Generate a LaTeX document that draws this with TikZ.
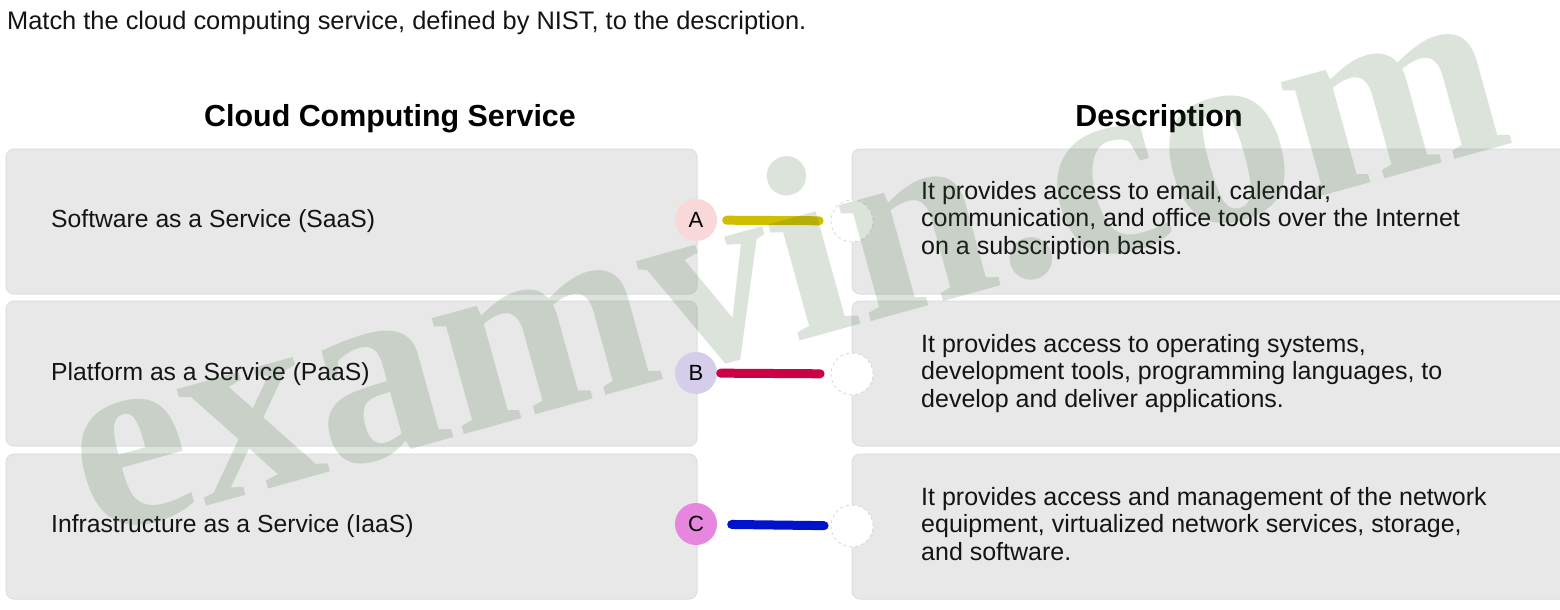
\documentclass[tikz,border=0pt]{standalone}
\usepackage{fontspec}
\setmainfont{Liberation Sans}
\newfontfamily\wmfont{Liberation Serif}
\definecolor{boxfill}{HTML}{E8E8E8}
\definecolor{boxline}{HTML}{DCDEE2}
\definecolor{pinkA}{HTML}{F8D8D8}
\definecolor{lavB}{HTML}{D6CDEA}
\definecolor{magC}{HTML}{E686DE}
\definecolor{yelA}{HTML}{D0BF00}
\definecolor{crimB}{HTML}{CC0044}
\definecolor{bluC}{HTML}{0012CC}
\definecolor{wmgreen}{HTML}{3C643C}
\definecolor{dashgray}{HTML}{D8D8D8}
\definecolor{txt}{HTML}{141414}
\begin{document}
\begin{tikzpicture}[x=1pt,y=-1pt,
  lbox/.style={draw=boxline, fill=boxfill, line width=1pt, rounded corners=8pt,
    minimum width=691pt, minimum height=145pt, inner sep=0pt},
  rbox/.style={draw=boxline, fill=boxfill, line width=1pt, rounded corners=8pt,
    minimum width=730pt, minimum height=145pt, inner sep=0pt},
  ltext/.style={anchor=base west, inner sep=0pt, text=txt, font=\fontsize{24.7}{27.5}\selectfont},
  rtext/.style={anchor=base west, inner sep=0pt, text=txt, align=left, font=\fontsize{25}{27.5}\selectfont},
  head/.style={anchor=base, inner sep=0pt, font=\bfseries\fontsize{30.4}{34}\selectfont},
  letter/.style={circle, minimum size=42pt, inner sep=0pt, font=\fontsize{22}{24}\selectfont},
  target/.style={circle, minimum size=42pt, inner sep=0pt, fill=white, draw=dashgray, dashed, line width=0.8pt},
  conn/.style={line width=9pt, line cap=round},
  wm/.style={anchor=base, inner sep=0pt, text=wmgreen, text opacity=0.18,
    font=\wmfont\bfseries\fontsize{262}{262}\selectfont}
]
\useasboundingbox (0,0) rectangle (1560,610);
\clip (0,0) rectangle (1560,610);
\fill[white] (0,0) rectangle (1560,610);

\node[anchor=base west, inner sep=0pt, text=txt, font=\fontsize{25.4}{28}\selectfont] (title) at (7,30)
  {Match the cloud computing service, defined by NIST, to the description.};

\node[head] (h1) at (390,126) {Cloud Computing Service};
\node[head] (h2) at (1159,126) {Description};

% left boxes
\node[lbox] (l1) at (351.5,221.5) {};
\node[lbox] (l2) at (351.5,373.5) {};
\node[lbox] (l3) at (351.5,526.5) {};
% right boxes
\node[rbox] (r1) at (1217,221.5) {};
\node[rbox] (r2) at (1217,373.5) {};
\node[rbox] (r3) at (1217,526.5) {};

\node[ltext] (t1) at (51,227) {Software as a Service (SaaS)};
\node[ltext] (t2) at (51,380) {Platform as a Service (PaaS)};
\node[ltext] (t3) at (51,532) {Infrastructure as a Service (IaaS)};

\node[rtext] (d1) at (921,254) {It provides access to email, calendar,\\communication, and office tools over the Internet\\on a subscription basis.};
\node[rtext] (d2) at (921,407) {It provides access to operating systems,\\development tools, programming languages, to\\develop and deliver applications.};
\node[rtext] (d3) at (921,560) {It provides access and management of the network\\equipment, virtualized network services, storage,\\and software.};

\node[letter, fill=pinkA] (A) at (696,220) {A};
\node[letter, fill=lavB] (B) at (696,373) {B};
\node[letter, fill=magC] (C) at (696,524) {C};

\node[target] (tA) at (852,221) {};
\node[target] (tB) at (852,374) {};
\node[target] (tC) at (852,526) {};

\draw[conn, draw=yelA, shorten <=9.5pt, shorten >=11.5pt] (A) -- (tA);
\draw[conn, draw=crimB, shorten <=3.5pt, shorten >=10.5pt] (B) -- (tB);
\draw[conn, draw=bluC, shorten <=14.5pt, shorten >=6.5pt] (C) -- (tC);

\node[wm, rotate=15.5] (wmark) at (805,340) {examvin.com};
\end{tikzpicture}
\end{document}
